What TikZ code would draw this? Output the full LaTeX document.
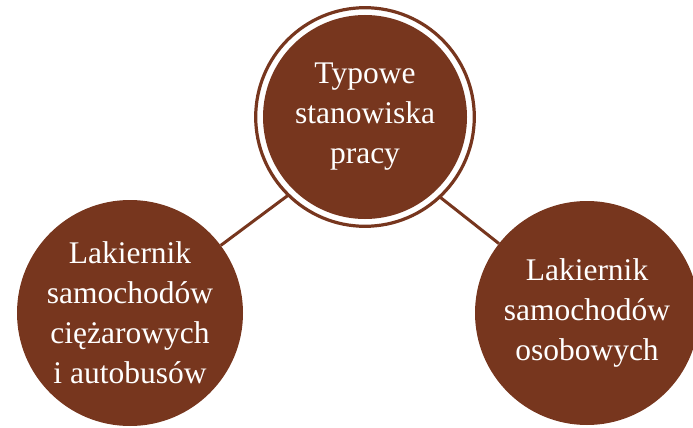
\documentclass[tikz,border=0pt]{standalone}
\usepackage{fontspec}
\setmainfont{Liberation Serif}
\usepackage{tikz}
\usetikzlibrary{backgrounds}
\definecolor{rust}{RGB}{119,54,30}

\begin{document}
\begin{tikzpicture}[
    x=1pt, y=-1pt,
    job/.style={circle, fill=rust, text=white, align=center, inner sep=0pt, font=\fontsize{31.5}{40}\selectfont},
    ring/.style={circle, draw=rust, line width=3.2pt, fill=white, minimum size=218.6pt, inner sep=0pt},
    link/.style={draw=rust, line width=3pt}
]
\useasboundingbox (0,0) rectangle (693,428);

\node[ring] (hub) at (365,117) {};
\node[job, minimum size=204pt] (top) at (hub) {Typowe\\stanowiska\\pracy};

\node[job, minimum size=226pt] (left) at (130,313) {Lakiernik\\samochodów\\ciężarowych\\i autobusów};

\node[job, minimum size=224pt] (right) at (587,313) {Lakiernik\\samochodów\\osobowych};

% connectors meet below the hub centre, hidden by the ring
\coordinate (focus) at (365,138);
\begin{scope}[on background layer]
\draw[link] (left) -- (focus);
\draw[link] (right) -- (focus);
\end{scope}

\end{tikzpicture}
\end{document}
